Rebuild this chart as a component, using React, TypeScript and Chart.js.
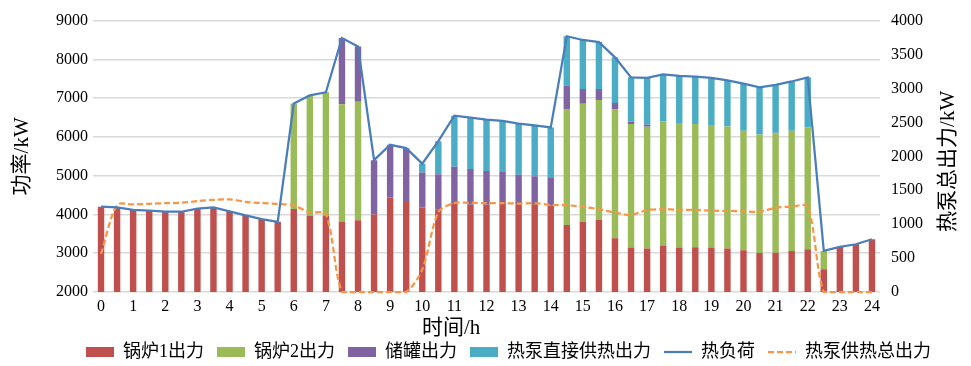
import React, { useEffect, useRef } from 'react';
import { Chart, registerables } from 'chart.js';

Chart.register(...registerables);

const hours = ['0', '0.5', '1', '1.5', '2', '2.5', '3', '3.5', '4', '4.5', '5', '5.5', '6', '6.5', '7', '7.5', '8', '8.5', '9', '9.5', '10', '10.5', '11', '11.5', '12', '12.5', '13', '13.5', '14', '14.5', '15', '15.5', '16', '16.5', '17', '17.5', '18', '18.5', '19', '19.5', '20', '20.5', '21', '21.5', '22', '22.5', '23', '23.5', '24'];

const xTickLabels = ['0', '1', '2', '3', '4', '5', '6', '7', '8', '9', '10', '11', '12', '13', '14', '15', '16', '17', '18', '19', '20', '21', '22', '23', '24'];

const boiler1 = [4200, 4180, 4120, 4100, 4070, 4070, 4150, 4180, 4080, 3975, 3880, 3810, 4140, 3960, 3960, 3820, 3850, 4000, 4435, 4320, 4180, 4120, 4280, 4250, 4250, 4270, 4265, 4265, 4230, 3725, 3808, 3860, 3385, 3145, 3125, 3200, 3145, 3155, 3145, 3120, 3077, 3005, 3015, 3059, 3103, 2586, 3162, 3231, 3361];

const boiler2 = [0, 0, 0, 0, 0, 0, 0, 0, 0, 0, 0, 0, 2720, 3110, 3190, 3020, 3060, 0, 0, 0, 0, 0, 0, 0, 0, 0, 0, 0, 0, 2995, 3048, 3095, 3325, 3187, 3137, 3196, 3217, 3181, 3161, 3146, 3082, 3059, 3080, 3100, 3141, 473, 0, 0, 0];

const storage = [0, 0, 0, 0, 0, 0, 0, 0, 0, 0, 0, 0, 0, 0, 0, 1710, 1420, 1400, 1362, 1390, 900, 920, 950, 920, 868, 825, 760, 720, 730, 602, 380, 281, 165, 64, 52, 0, 0, 0, 0, 0, 0, 0, 15, 0, 0, 0, 0, 0, 0];

const heatPumpDirect = [0, 0, 0, 0, 0, 0, 0, 0, 0, 0, 0, 0, 0, 0, 0, 0, 0, 0, 0, 0, 230, 850, 1317, 1325, 1327, 1317, 1315, 1315, 1285, 1274, 1264, 1209, 1178, 1140, 1210, 1214, 1213, 1222, 1218, 1194, 1214, 1214, 1233, 1271, 1292, 0, 0, 0, 0];

const heatLoad = [4200, 4180, 4120, 4100, 4070, 4070, 4150, 4180, 4080, 3975, 3880, 3810, 6860, 7070, 7150, 8550, 8330, 5400, 5797, 5710, 5310, 5890, 6547, 6495, 6445, 6412, 6340, 6300, 6245, 8596, 8500, 8445, 8053, 7536, 7524, 7610, 7575, 7558, 7524, 7460, 7373, 7278, 7343, 7430, 7536, 3059, 3162, 3231, 3361];

const heatPumpTotal = [560, 1280, 1290, 1300, 1310, 1315, 1340, 1358, 1365, 1330, 1310, 1300, 1275, 1172, 1147, 0, 0, 0, 0, 0, 330, 1175, 1310, 1314, 1310, 1309, 1304, 1309, 1284, 1279, 1255, 1220, 1171, 1137, 1208, 1220, 1212, 1210, 1200, 1195, 1190, 1185, 1240, 1259, 1259, 0, 0, 0, 0];

const leftTicks = [2000, 3000, 4000, 5000, 6000, 7000, 8000, 9000];
const rightTicks = [0, 500, 1000, 1500, 2000, 2500, 3000, 3500, 4000];

const seriesNames = ['锅炉1出力', '锅炉2出力', '储罐出力', '热泵直接供热出力', '热负荷', '热泵供热总出力'];
const xTitle = '时间/h';
const yTitle = '功率/kW';
const y1Title = '热泵总出力/kW';

const FONT = '"Liberation Serif", "Noto Sans CJK SC", serif';

const titlesPlugin = {
  id: 'customAxisTitles',
  afterDraw(chart: any) {
    const { ctx, chartArea } = chart;
    ctx.save();
    ctx.fillStyle = '#000';
    ctx.textAlign = 'center';
    ctx.textBaseline = 'middle';
    ctx.font = `21px ${FONT}`;
    const midY = (chartArea.top + chartArea.bottom) / 2;
    ctx.fillText(xTitle, chartArea.left + (chartArea.right - chartArea.left) * 0.455, chartArea.bottom + 36);
    ctx.save();
    ctx.translate(22, midY);
    ctx.rotate(-Math.PI / 2);
    ctx.fillText(yTitle, 0, 0);
    ctx.restore();
    ctx.save();
    ctx.translate(chartArea.right + 68, midY + 5);
    ctx.rotate(-Math.PI / 2);
    ctx.fillText(y1Title, 0, 0);
    ctx.restore();
    ctx.restore();
  },
};

export default function App() {
  const ref = useRef<HTMLCanvasElement | null>(null);

  useEffect(() => {
    document.body.style.margin = '0';
    if (!ref.current) return;
    const barCommon = { type: 'bar' as const, order: 1, borderWidth: 0, barPercentage: 0.4, categoryPercentage: 1, yAxisID: 'y', stack: 'bars' };
    const chart = new Chart(ref.current, {
      type: 'bar',
      data: {
        labels: hours,
        datasets: [
          { ...barCommon, label: seriesNames[0], data: boiler1, backgroundColor: '#C0504D' },
          { ...barCommon, label: seriesNames[1], data: boiler2, backgroundColor: '#9BBB59' },
          { ...barCommon, label: seriesNames[2], data: storage, backgroundColor: '#8064A2' },
          { ...barCommon, label: seriesNames[3], data: heatPumpDirect, backgroundColor: '#4BACC6' },
          {
            type: 'line', order: 0, label: seriesNames[4], data: heatLoad, yAxisID: 'y', stack: 'load',
            borderColor: '#4A7EBB', backgroundColor: '#4A7EBB', borderWidth: 2.25, pointRadius: 0, tension: 0, fill: false,
          },
          {
            type: 'line', order: 0, label: seriesNames[5], data: heatPumpTotal, yAxisID: 'y1', clip: 4,
            borderColor: '#F79646', backgroundColor: '#F79646', borderWidth: 2.25, borderDash: [6, 3], pointRadius: 0, tension: 0.3, fill: false,
          },
        ] as any,
      },
      options: {
        responsive: false,
        animation: false,
        devicePixelRatio: 1,
        layout: { padding: { left: 46, right: 0, top: 20, bottom: -5 } },
        plugins: {
          tooltip: { enabled: false },
          legend: {
            position: 'bottom',
            labels: {
              usePointStyle: true,
              pointStyleWidth: 28,
              boxHeight: 10,
              padding: 13,
              color: '#000',
              font: { family: FONT, size: 18 },
              sort: (a: any, b: any) => a.datasetIndex - b.datasetIndex,
              generateLabels: (c: any) => {
                const items = (Chart.defaults.plugins.legend.labels as any).generateLabels(c);
                items.forEach((it: any) => {
                  const ds: any = c.data.datasets[it.datasetIndex];
                  if (ds.type === 'line') {
                    it.pointStyle = 'line';
                    it.lineWidth = ds.borderWidth;
                    it.lineDash = ds.borderDash || [];
                    it.strokeStyle = ds.borderColor;
                  } else {
                    it.pointStyle = 'rect';
                    it.lineWidth = 0;
                  }
                });
                return items;
              },
            },
          },
        },
        scales: {
          x: {
            stacked: true,
            offset: true,
            grid: { display: false, drawTicks: false },
            border: { display: false },
            ticks: {
              autoSkip: false,
              maxRotation: 0,
              padding: 5,
              color: '#000',
              font: { family: FONT, size: 16 },
              callback: (_v: any, i: number) => (xTickLabels.includes(hours[i]) ? hours[i] : ''),
            },
            afterFit: (s: any) => { s.height = 38; },
          },
          y: {
            stacked: true,
            min: leftTicks[0],
            max: leftTicks[leftTicks.length - 1],
            afterBuildTicks: (s: any) => { s.ticks = leftTicks.map((v) => ({ value: v })); },
            grid: { color: '#D9D9D9', lineWidth: 1.5, drawTicks: false },
            border: { display: false },
            ticks: { color: '#000', padding: 5, font: { family: FONT, size: 16 }, callback: (v: any) => String(v) },
            afterFit: (s: any) => { s.width = 47; },
          },
          y1: {
            position: 'right',
            min: rightTicks[0],
            max: rightTicks[rightTicks.length - 1],
            afterBuildTicks: (s: any) => { s.ticks = rightTicks.map((v) => ({ value: v })); },
            grid: { display: false, drawTicks: false },
            border: { display: false },
            ticks: { color: '#000', padding: 11, font: { family: FONT, size: 16 }, callback: (v: any) => String(v) },
            afterFit: (s: any) => { s.width = 91; },
          },
        },
      } as any,
      plugins: [titlesPlugin],
    });
    return () => chart.destroy();
  }, []);

  return <canvas ref={ref} width={971} height={366} style={{ display: 'block' }} />;
}
